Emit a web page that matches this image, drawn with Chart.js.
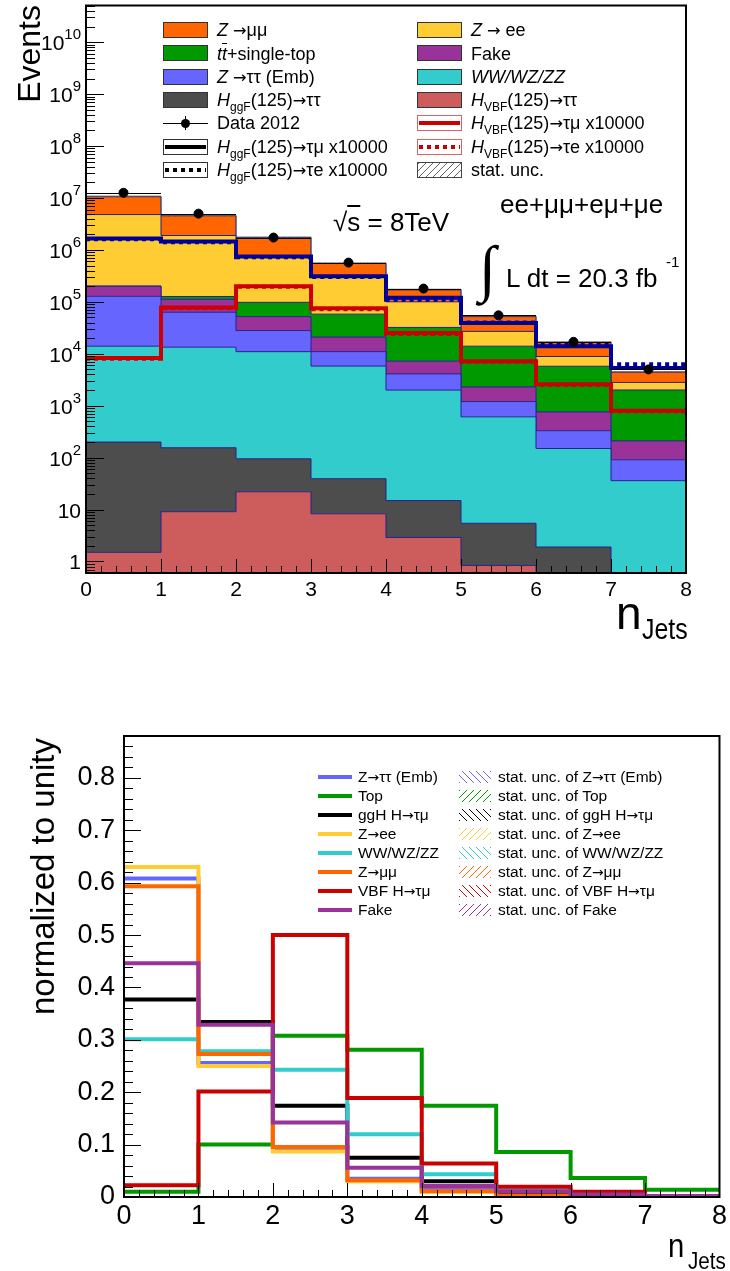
<!DOCTYPE html>
<html>
<head>
<meta charset="utf-8">
<script src="https://cdn.jsdelivr.net/npm/chart.js@4.4.1/dist/chart.umd.min.js"></script>
<style>
  body { margin: 0; background: #fff; font-family: "Liberation Sans", Arial, sans-serif; }
  #page { position: relative; width: 730px; height: 1271px; overflow: hidden; }
  canvas { position: absolute; left: 0; }
  .t { position: absolute; white-space: nowrap; color: #000; line-height: 1; }
  .t sub { font-size: 12px; vertical-align: -5px; line-height: 0; }
  .t sup { line-height: 0; }
  .narrow { transform: scaleX(0.86); transform-origin: 0 0; }
  .ylab { position: absolute; right: 649px; transform: translateY(-50%); font-size: 21px; line-height: 21px; white-space: nowrap; }
  .ylab sup { font-size: 15px; vertical-align: 11px; line-height: 0; }
  .sw { position: absolute; box-sizing: border-box; }
  .ov { text-decoration: overline; }
  .ar { font-family: "DejaVu Sans"; font-size: 0.9em; }
  .rot { position: absolute; transform: rotate(-90deg); transform-origin: 0 0; text-align: right; white-space: nowrap; line-height: 1; }
</style>
</head>
<body>
<div id="page">
  <canvas id="eventsChart" width="730" height="650" style="top:0"></canvas>
  <canvas id="normChart" width="730" height="621" style="top:650px"></canvas>
</div>
<script>
// ---- binning / ticks ----
const binLow = [0, 1, 2, 3, 4, 5, 6, 7];
const binCenters = [0.5, 1.5, 2.5, 3.5, 4.5, 5.5, 6.5, 7.5];
const xTickLabels = [0, 1, 2, 3, 4, 5, 6, 7, 8];
const eventsYTickExp = [0, 1, 2, 3, 4, 5, 6, 7, 8, 9, 10];
const normYTicks = [0, 0.1, 0.2, 0.3, 0.4, 0.5, 0.6, 0.7, 0.8];

// ---- top panel: events per n_jets bin ----
const hVbfTauTau = [1.5, 9.1, 22, 8.3, 2.9, 0.84, 0, 0];
const hGgfTauTau = [198, 146, 73, 31, 12, 4.6, 1.9, 0];
const dibosonEv  = [13800, 13250, 10900, 5760, 1985, 605, 148, 36];
const zTauTauEv  = [114000, 49600, 17000, 5200, 2100, 590, 180, 55];
const fakeEv     = [72000, 49000, 24000, 10000, 3100, 1100, 430, 119];
const topEv      = [1500, 15000, 46000, 37000, 25000, 11700, 5000, 1800];
const zEeEv      = [4600000, 1770000, 650000, 250000, 68000, 13000, 3100, 800];
const zMuMuEv    = [5800000, 2650000, 980000, 240000, 70000, 25000, 7700, 1600];
const dataEv     = [12600000, 5000000, 1730000, 570000, 180000, 55000, 17000, 5000];
const ggfTauMuX1e4 = [1660000, 1450000, 750000, 310000, 120000, 39000, 14000, 5300];
const ggfTauEX1e4  = [1600000, 1400000, 720000, 300000, 110000, 40000, 15000, 6300];
const vbfTauMuX1e4 = [8300, 78000, 200000, 75000, 25000, 7200, 2600, 800];
const vbfTauEX1e4  = [8000, 76000, 195000, 72000, 24000, 7000, 2500, 780];

// ---- bottom panel: shapes normalized to unity ----
const normZTauTau = [0.608, 0.256, 0.093, 0.035, 0.016, 0.005, 0.002, 0.001];
const normTop     = [0.010, 0.100, 0.308, 0.281, 0.174, 0.086, 0.0365, 0.0137];
const normGgH     = [0.377, 0.334, 0.174, 0.075, 0.030, 0.008, 0.002, 0.001];
const normZEe     = [0.630, 0.250, 0.087, 0.030, 0.010, 0.002, 0.001, 0.0005];
const normDiboson = [0.301, 0.278, 0.243, 0.120, 0.0435, 0.013, 0.003, 0.001];
const normZMuMu   = [0.593, 0.273, 0.0955, 0.032, 0.011, 0.003, 0.001, 0.0005];
const normVbf     = [0.0225, 0.2015, 0.500, 0.189, 0.064, 0.0195, 0.010, 0.002];
const normFake    = [0.446, 0.329, 0.142, 0.056, 0.021, 0.011, 0.005, 0.002];

const C = {
  zmumu: '#ff6600', zee: '#ffcc33', top: '#009900', fake: '#993399',
  ztt: '#6666ff', vv: '#33cccc', ggf: '#4d4d4d', vbf: '#cd5c5c',
  sigBlue: '#000099', sigRed: '#cc0000'
};

Chart.defaults.font.family = '"Liberation Sans", Arial, sans-serif';
Chart.defaults.color = '#000';

const page = document.getElementById('page');

// histogram -> stepped points over the bin edges (value of a bin sits on its upper edge)
function steps(vals) {
  const pts = [{ x: binLow[0], y: vals[0] }];
  vals.forEach((v, i) => pts.push({ x: binLow[i] + 1, y: v }));
  return pts;
}

function hatch(color, dir) {
  const c = document.createElement('canvas');
  c.width = c.height = 7;
  const g = c.getContext('2d');
  g.strokeStyle = color;
  g.lineWidth = 1;
  g.beginPath();
  if (dir === '/') { g.moveTo(-1, 8); g.lineTo(8, -1); } else { g.moveTo(-1, -1); g.lineTo(8, 8); }
  g.stroke();
  return g.createPattern(c, 'repeat');
}

// ticks inside the frame, ROOT style
const frameTicks = {
  id: 'frameTicks',
  afterDatasetsDraw(chart, args, o) {
    const { ctx, chartArea: a } = chart;
    const xs = chart.scales.x, ys = chart.scales.y;
    ctx.save();
    ctx.strokeStyle = '#000';
    ctx.lineWidth = 1;
    ctx.beginPath();
    const xt = (vals, len) => vals.forEach(v => {
      const p = Math.round(xs.getPixelForValue(v)) + 0.5;
      ctx.moveTo(p, a.bottom); ctx.lineTo(p, a.bottom - len);
    });
    const yt = (vals, len) => vals.forEach(v => {
      const p = Math.round(ys.getPixelForValue(v)) + 0.5;
      if (p < a.top || p > a.bottom) return;
      ctx.moveTo(a.left, p); ctx.lineTo(a.left + len, p);
    });
    xt(o.xMajor, o.xMajorLen); xt(o.xMinor, o.xMinorLen);
    yt(o.yMajor, o.yMajorLen); yt(o.yMinor, o.yMinorLen);
    ctx.stroke();
    ctx.lineWidth = 2;
    ctx.strokeRect(a.left, a.top, a.right - a.left, a.bottom - a.top);
    ctx.restore();
  }
};

// horizontal bin-width bars on the data points
const dataErrors = {
  id: 'dataErrors',
  afterDatasetsDraw(chart) {
    const { ctx } = chart;
    const xs = chart.scales.x;
    chart.data.datasets.forEach((ds, di) => {
      if (!ds.isData) return;
      const meta = chart.getDatasetMeta(di);
      ctx.save();
      ctx.strokeStyle = '#000';
      ctx.lineWidth = 1;
      ctx.beginPath();
      meta.data.forEach((pt, i) => {
        const y = Math.round(pt.y) + 0.5;
        ctx.moveTo(xs.getPixelForValue(binCenters[i] - 0.5), y);
        ctx.lineTo(xs.getPixelForValue(binCenters[i] + 0.5), y);
      });
      ctx.stroke();
      ctx.restore();
    });
  }
};

const xMinor = [];
for (let i = 0; i <= 40; i++) if (i % 5) xMinor.push(i * 0.2);

// ================= top panel =================
const Y_MIN = 0.64, Y_MAX = 5.1e10, LOG_FLOOR = 0.1;
const logMinor = [];
for (let e = -1; e <= 10; e++) for (let k = 2; k <= 9; k++) {
  const v = k * Math.pow(10, e);
  if (v > Y_MIN && v < Y_MAX) logMinor.push(v);
}

const stack = [
  [hVbfTauTau, C.vbf], [hGgfTauTau, C.ggf], [dibosonEv, C.vv], [zTauTauEv, C.ztt],
  [fakeEv, C.fake], [topEv, C.top], [zEeEv, C.zee], [zMuMuEv, C.zmumu]
];
let cum = binLow.map(() => 0);
const eventSets = [];
stack.forEach(([vals, color], k) => {
  cum = cum.map((c, i) => c + vals[i]);
  eventSets.push({
    data: steps(cum.map(v => Math.max(v, LOG_FLOOR))),
    stepped: 'after',
    backgroundColor: color,
    borderColor: '#22228f',
    borderWidth: 1,
    fill: k === 0 ? 'start' : k - 1,
    pointRadius: 0,
    order: 10
  });
});
const totalBkg = cum.slice();
// stat. unc. band
eventSets.push({ data: steps(totalBkg.map(v => v * 0.97)), stepped: 'after', borderColor: 'rgba(0,0,0,0)',
  borderWidth: 1, pointRadius: 0, fill: false, order: 6 });
eventSets.push({ data: steps(totalBkg.map(v => v * 1.03)), stepped: 'after', borderColor: 'rgba(80,80,80,0.7)',
  borderWidth: 1, pointRadius: 0, fill: 8, backgroundColor: hatch('#555', '/'), order: 6 });
// signals x10000
eventSets.push({ data: steps(vbfTauEX1e4), stepped: 'after', borderColor: C.sigRed, borderWidth: 4,
  borderDash: [4, 4], pointRadius: 0, fill: false, order: 4 });
eventSets.push({ data: steps(vbfTauMuX1e4), stepped: 'after', borderColor: C.sigRed, borderWidth: 4,
  pointRadius: 0, fill: false, order: 3 });
eventSets.push({ data: steps(ggfTauEX1e4), stepped: 'after', borderColor: C.sigBlue, borderWidth: 4,
  borderDash: [4, 4], pointRadius: 0, fill: false, order: 2 });
eventSets.push({ data: steps(ggfTauMuX1e4), stepped: 'after', borderColor: C.sigBlue, borderWidth: 4,
  pointRadius: 0, fill: false, order: 1 });
// data
eventSets.push({ isData: true, data: binCenters.map((x, i) => ({ x, y: dataEv[i] })), showLine: false,
  pointRadius: 4.5, pointBackgroundColor: '#000', pointBorderColor: '#000', order: 0 });

const eventsChart = new Chart(document.getElementById('eventsChart'), {
  type: 'line',
  data: { datasets: eventSets },
  options: {
    responsive: false,
    animation: false,
    events: [],
    layout: { padding: { left: 0, top: 5, right: 44, bottom: 0 } },
    plugins: {
      legend: { display: false },
      tooltip: { enabled: false },
      frameTicks: {
        xMajor: xTickLabels, xMinor, xMajorLen: 14, xMinorLen: 7,
        yMajor: eventsYTickExp.map(e => Math.pow(10, e)), yMinor: logMinor, yMajorLen: 18, yMinorLen: 9
      }
    },
    scales: {
      x: {
        type: 'linear', min: 0, max: 8,
        grid: { display: false, drawTicks: false }, border: { display: false },
        afterBuildTicks: s => { s.ticks = xTickLabels.map(v => ({ value: v })); },
        afterFit: s => { s.height = 77; },
        ticks: { font: { size: 21 }, padding: 5, maxRotation: 0, autoSkip: false }
      },
      y: {
        type: 'logarithmic', min: Y_MIN, max: Y_MAX,
        grid: { display: false, drawTicks: false }, border: { display: false },
        ticks: { display: false },
        afterFit: s => { s.width = 86; }
      }
    }
  },
  plugins: [frameTicks, dataErrors]
});

// y tick labels with exponents, placed by the log scale
const ys = eventsChart.scales.y;
eventsYTickExp.forEach(e => {
  const d = document.createElement('div');
  d.className = 'ylab';
  d.innerHTML = e === 0 ? '1' : e === 1 ? '10' : '10<sup>' + e + '</sup>';
  d.style.top = ys.getPixelForValue(Math.pow(10, e)) + 'px';
  page.appendChild(d);
});

// ================= bottom panel =================
const normSeries = [
  [normZTauTau, C.ztt], [normTop, C.top], [normGgH, '#000'], [normZEe, C.zee],
  [normDiboson, C.vv], [normZMuMu, C.zmumu], [normVbf, C.sigRed], [normFake, C.fake]
];
const normMinor = [];
for (let i = 1; i <= 44; i++) if (i % 5) normMinor.push(i * 0.02);

new Chart(document.getElementById('normChart'), {
  type: 'line',
  data: {
    datasets: normSeries.map(([vals, color], k) => ({
      data: steps(vals), stepped: 'after', borderColor: color, borderWidth: 4,
      pointRadius: 0, fill: false, order: normSeries.length - k
    }))
  },
  options: {
    responsive: false,
    animation: false,
    events: [],
    layout: { padding: { left: 0, top: 86, right: 7, bottom: 0 } },
    plugins: {
      legend: { display: false },
      tooltip: { enabled: false },
      frameTicks: {
        xMajor: xTickLabels, xMinor, xMajorLen: 14, xMinorLen: 7,
        yMajor: normYTicks, yMinor: normMinor, yMajorLen: 17, yMinorLen: 9
      }
    },
    scales: {
      x: {
        type: 'linear', min: 0, max: 8,
        grid: { display: false, drawTicks: false }, border: { display: false },
        afterBuildTicks: s => { s.ticks = xTickLabels.map(v => ({ value: v })); },
        afterFit: s => { s.height = 74; },
        ticks: { font: { size: 27 }, padding: 3, maxRotation: 0, autoSkip: false }
      },
      y: {
        type: 'linear', min: 0, max: 0.88,
        grid: { display: false, drawTicks: false }, border: { display: false },
        afterBuildTicks: s => { s.ticks = normYTicks.map(v => ({ value: v })); },
        afterFit: s => { s.width = 124; },
        ticks: { font: { size: 27 }, padding: 9, callback: v => (v === 0 ? '0' : v.toFixed(1)) }
      }
    }
  },
  plugins: [frameTicks]
});

// ================= text overlays =================
function text(html, left, top, size, extra, cls) {
  const d = document.createElement('div');
  d.className = 't' + (cls ? ' ' + cls : '');
  d.style.left = left + 'px';
  d.style.top = top + 'px';
  d.style.fontSize = size + 'px';
  if (extra) Object.assign(d.style, extra);
  d.innerHTML = html;
  page.appendChild(d);
  return d;
}
function rotated(html, left, top, size, width) {
  const d = document.createElement('div');
  d.className = 'rot';
  d.style.left = left + 'px';
  d.style.top = (top + width) + 'px';
  d.style.width = width + 'px';
  d.style.fontSize = size + 'px';
  d.innerHTML = html;
  page.appendChild(d);
}
function swatch(left, top, w, h, style) {
  const d = document.createElement('div');
  d.className = 'sw';
  Object.assign(d.style, { left: left + 'px', top: top + 'px', width: w + 'px', height: h + 'px' }, style);
  page.appendChild(d);
  return d;
}

const AR = '<span class="ar">→</span>';

// top legend
const lineBar = (color, dotted) => '<div style="position:absolute;left:1px;right:1px;top:50%;height:4px;margin-top:-2px;background:' +
  (dotted ? 'repeating-linear-gradient(90deg,' + color + ' 0 4px,transparent 4px 8px)' : color) + '"></div>';
const topLegendLeft = [
  { bg: C.zmumu, html: '<i>Z</i> ' + AR + 'μμ' },
  { bg: C.top, html: '<i>t</i><i class="ov">t</i>+single-top' },
  { bg: C.ztt, html: '<i>Z</i> ' + AR + 'ττ (Emb)' },
  { bg: C.ggf, html: '<i>H</i><sub>ggF</sub>(125)' + AR + 'ττ' },
  { kind: 'data', html: 'Data 2012' },
  { kind: 'line', color: '#000', html: '<i>H</i><sub>ggF</sub>(125)' + AR + 'τμ x10000' },
  { kind: 'line', color: '#000', dotted: true, html: '<i>H</i><sub>ggF</sub>(125)' + AR + 'τe x10000' }
];
const topLegendRight = [
  { bg: C.zee, html: '<i>Z</i> ' + AR + ' ee' },
  { bg: C.fake, html: 'Fake' },
  { bg: C.vv, html: '<i>WW/WZ/ZZ</i>' },
  { bg: C.vbf, html: '<i>H</i><sub>VBF</sub>(125)' + AR + 'ττ' },
  { kind: 'line', color: C.sigRed, html: '<i>H</i><sub>VBF</sub>(125)' + AR + 'τμ x10000' },
  { kind: 'line', color: C.sigRed, dotted: true, html: '<i>H</i><sub>VBF</sub>(125)' + AR + 'τe x10000' },
  { kind: 'hatch', html: 'stat. unc.' }
];
function topLegend(items, swX, txtX) {
  items.forEach((it, r) => {
    const cy = 30 + r * 23.3;
    if (it.kind === 'data') {
      const s = swatch(swX, cy - 8, 45, 16, {});
      s.innerHTML = '<div style="position:absolute;left:0;right:0;top:7.5px;height:1px;background:#000"></div>' +
        '<div style="position:absolute;left:22px;top:1px;width:1px;height:14px;background:#000"></div>' +
        '<div style="position:absolute;left:18px;top:3.5px;width:9px;height:9px;border-radius:50%;background:#000"></div>';
    } else if (it.kind === 'line') {
      const s = swatch(swX, cy - 8, 45, 16, { border: '1px solid ' + (it.color === '#000' ? '#333' : '#e06060'), background: '#fff' });
      s.innerHTML = lineBar(it.color, it.dotted);
    } else if (it.kind === 'hatch') {
      swatch(swX, cy - 8, 45, 16, { border: '1px solid #444',
        background: 'repeating-linear-gradient(135deg,#666 0 1px,#fff 1px 5px)' });
    } else {
      swatch(swX, cy - 8, 45, 16, { border: '1px solid #333', background: it.bg });
    }
    text(it.html, txtX, cy - 8.8, 18);
  });
}
topLegend(topLegendLeft, 163, 217);
topLegend(topLegendRight, 417, 471);

// top annotations
text('√<span class="ov">s</span> = 8TeV', 333, 209, 26);
text('ee+μμ+eμ+μe', 500, 191, 26);
text('∫', 479, 237, 62, { fontFamily: '"DejaVu Sans"', fontWeight: '200' });
text('L dt = 20.3 fb', 506, 265, 26);
text('-1', 666, 254, 15);

// axis titles
rotated('Events', 13, 5, 32, 150);
text('n', 616, 590, 46);
text('Jets', 642, 615, 29, null, 'narrow');
rotated('normalized to unity', 26, 738, 33, 320);
text('n', 668, 1228, 34, null, 'narrow');
text('Jets', 688, 1249, 24, null, 'narrow');

// bottom legend
const normLegend = [
  ['Z' + AR + 'ττ (Emb)', C.ztt, '\\'], ['Top', C.top, '/'], ['ggH H' + AR + 'τμ', '#000', '\\'], ['Z' + AR + 'ee', C.zee, '/'],
  ['WW/WZ/ZZ', C.vv, '\\'], ['Z' + AR + 'μμ', C.zmumu, '/'], ['VBF H' + AR + 'τμ', C.sigRed, '\\'], ['Fake', C.fake, '/']
];
normLegend.forEach(([label, color, dir], r) => {
  const cy = 777 + r * 19;
  swatch(318, cy - 2, 34, 4, { background: color });
  text(label, 358, cy - 7.6, 15.5);
  swatch(459, cy - 6, 32, 12, {
    background: 'repeating-linear-gradient(' + (dir === '/' ? '135deg' : '45deg') + ',' + color + ' 0 1.1px,#fff 1.1px 5px)'
  });
  text('stat. unc. of ' + label, 498, cy - 7.6, 15.5);
});
</script>
</body>
</html>
